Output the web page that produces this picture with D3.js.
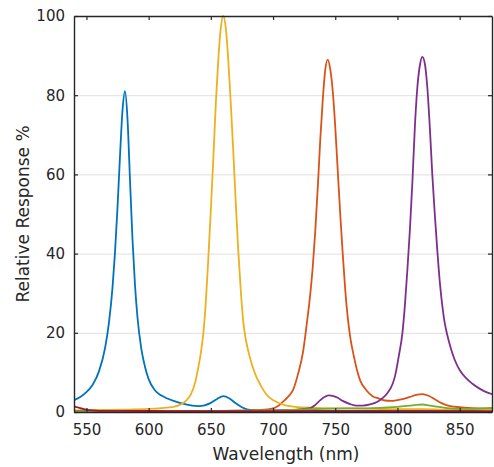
<!DOCTYPE html>
<html>
<head>
<meta charset="utf-8">
<script src="https://cdn.jsdelivr.net/npm/d3@7"></script>
<style>
  html, body { margin: 0; padding: 0; background: #ffffff; }
  svg { display: block; }
  text { font-family: "DejaVu Sans", sans-serif; fill: #262626; }
</style>
</head>
<body>
<svg id="chart" width="494" height="467"></svg>
<script>
// ---------- data ----------
const xTicks = [550, 600, 650, 700, 750, 800, 850];
const yTicks = [0, 20, 40, 60, 80, 100];
const xTitle = "Wavelength (nm)";
const yTitle = "Relative Response %";

const blueWl  = [540,545,550,555,560,565,568,571,573,575,577,579,581,583,585,587,589,591,594,597,600,605,610,615,620,625,630,635,640,645,650,655,660,665,670,675,680,690,700,720,740,760,780,800,820,840,850,860,870,876];
const blueVal = [3.0,3.8,5.0,6.9,10.2,16.2,22.3,31.6,40.5,51.8,64.8,76.2,81,74,58.7,43.7,32.2,24,16.2,11.5,8.3,5.5,4.2,3.4,2.8,2.3,1.9,1.6,1.5,1.7,2.3,3.3,4.0,3.4,2.2,1.2,0.6,0.35,0.3,0.3,0.3,0.3,0.3,0.3,0.3,0.35,0.4,0.5,0.7,0.9];

const orangeWl  = [540,580,620,660,680,690,700,704,708,712,716,720,724,727,730,732,734,736,738,740,742,744,746,748,750,752,754,756,758,760,762,765,768,770,775,780,785,790,795,800,805,810,815,820,825,830,835,840,850,860,876];
const orangeVal = [0.3,0.3,0.3,0.3,0.4,0.5,0.9,1.5,2.6,3.8,5.5,9.5,15,22,30,37,46,57,69,79,86.5,89,86.5,81,72,61,50,40,31,24,19,14,10,8,5.5,4.0,3.4,2.9,2.8,3.0,3.3,3.8,4.3,4.5,4.1,3.2,2.3,1.7,1.2,1.0,0.9];

const yellowWl  = [540,560,580,600,610,620,625,630,634,637,640,642,644,646,648,650,652,654,656,658,660,662,664,666,668,670,672,674,676,678,680,683,686,690,695,700,705,710,715,720,740,760,780,800,820,840,860,876];
const yellowVal = [0.4,0.5,0.6,0.8,1.0,1.3,1.8,2.8,4.5,7,11.4,15,20,28,39,51,64,78,89,97,100,97,89,78,66,53,41,31,23,18.5,15.5,12,9.3,6.8,4.3,3.0,2.2,1.7,1.4,1.2,1.0,0.9,0.8,0.7,0.7,0.6,0.6,0.6];

const purpleWl  = [540,600,650,690,700,710,720,725,730,734,738,742,745,748,752,756,762,767,772,778,784,788,792,796,798,801,804,806,808,810,812,814,816,818,820,822,824,826,828,830,832,834,836,838,840,843,846,850,855,860,866,870,876];
const purpleVal = [0.3,0.3,0.3,0.3,0.4,0.5,0.6,0.8,1.0,1.8,3.0,3.9,4.2,4.1,3.6,2.8,2.0,1.6,1.6,1.9,2.6,3.5,4.8,7,9,14,20,27,36,46,58,72,82,87.5,89.7,88,82,72,60,50,41,33,27,22.5,19.5,16,13.2,10.6,8.6,7.2,5.9,5.2,4.5];

const greenWl  = [540,600,660,700,720,740,760,780,800,810,815,820,825,830,840,850,860,876];
const greenVal = [0.2,0.2,0.3,0.4,0.6,0.8,0.9,1.0,1.3,1.6,1.8,1.9,1.7,1.4,1.0,0.8,0.8,1.0];

const redWl  = [540,545,550,555,560,600,650,700,750,800,850,876];
const redVal = [1.4,1.0,0.6,0.4,0.3,0.25,0.2,0.2,0.2,0.2,0.2,0.2];

const seriesNames  = ["blue", "orange", "yellow", "purple", "green", "darkred"];
const seriesColors = ["#0072BD", "#D95319", "#EDB120", "#7E2F8E", "#77AC30", "#A2142F"];
const seriesWl  = [blueWl, orangeWl, yellowWl, purpleWl, greenWl, redWl];
const seriesVal = [blueVal, orangeVal, yellowVal, purpleVal, greenVal, redVal];

// ---------- layout ----------
const svg = d3.select("#chart");
const plot = { left: 74, right: 492, top: 16, bottom: 412 };
const x = d3.scaleLinear().domain([540, 876]).range([plot.left, plot.right]);
const y = d3.scaleLinear().domain([0, 100]).range([plot.bottom, plot.top]);
const axisColor = "#262626";
const tickLen = 4;

svg.append("defs").append("clipPath").attr("id", "clip")
  .append("rect")
  .attr("x", plot.left).attr("y", plot.top - 1)
  .attr("width", plot.right - plot.left).attr("height", plot.bottom - plot.top + 1);

// grid (horizontal only)
svg.append("g")
  .attr("transform", `translate(${plot.left},0)`)
  .call(d3.axisLeft(y).tickValues(yTicks.filter(v => v > 0 && v < 100))
        .tickSize(-(plot.right - plot.left)).tickFormat(""))
  .call(g => g.select(".domain").remove())
  .call(g => g.selectAll("line").attr("stroke", "#dfdfdf").attr("stroke-width", 1));

// curves
const line = d3.line().curve(d3.curveMonotoneX);
const curves = svg.append("g").attr("clip-path", "url(#clip)");
seriesNames.forEach((name, i) => {
  const pts = seriesWl[i].map((w, j) => [x(w), y(seriesVal[i][j])]);
  curves.append("path")
    .attr("d", line(pts))
    .attr("fill", "none")
    .attr("stroke", seriesColors[i])
    .attr("stroke-width", 1.8)
    .attr("stroke-linejoin", "round");
});

// axes (MATLAB-style box, inward ticks)
const styleAxis = g => {
  g.select(".domain").attr("stroke", axisColor).attr("stroke-width", 1.4);
  g.selectAll(".tick line").attr("stroke", axisColor).attr("stroke-width", 1.2);
};
svg.append("g")
  .attr("transform", `translate(0,${plot.bottom})`)
  .call(d3.axisBottom(x).tickValues(xTicks).tickSizeInner(-tickLen).tickSizeOuter(0).tickPadding(12))
  .call(styleAxis)
  .call(g => g.selectAll(".tick text").attr("font-size", 15).attr("fill", axisColor)
        .attr("font-family", "DejaVu Sans, sans-serif"));
svg.append("g")
  .attr("transform", `translate(0,${plot.top})`)
  .call(d3.axisTop(x).tickValues(xTicks).tickSizeInner(-tickLen).tickSizeOuter(0).tickFormat(""))
  .call(styleAxis);
svg.append("g")
  .attr("transform", `translate(${plot.left},0)`)
  .call(d3.axisLeft(y).tickValues(yTicks).tickSizeInner(-tickLen).tickSizeOuter(0).tickPadding(9))
  .call(styleAxis)
  .call(g => g.selectAll(".tick text").attr("font-size", 15).attr("fill", axisColor)
        .attr("font-family", "DejaVu Sans, sans-serif"));
svg.append("g")
  .attr("transform", `translate(${plot.right},0)`)
  .call(d3.axisRight(y).tickValues(yTicks).tickSizeInner(-tickLen).tickSizeOuter(0).tickFormat(""))
  .call(styleAxis);

// titles
svg.append("text")
  .attr("x", 286).attr("y", 460)
  .attr("text-anchor", "middle")
  .attr("font-size", 17)
  .text(xTitle);
svg.append("text")
  .attr("transform", `translate(29,${(plot.top + plot.bottom) / 2}) rotate(-90)`)
  .attr("text-anchor", "middle")
  .attr("font-size", 17)
  .text(yTitle);
</script>
</body>
</html>
